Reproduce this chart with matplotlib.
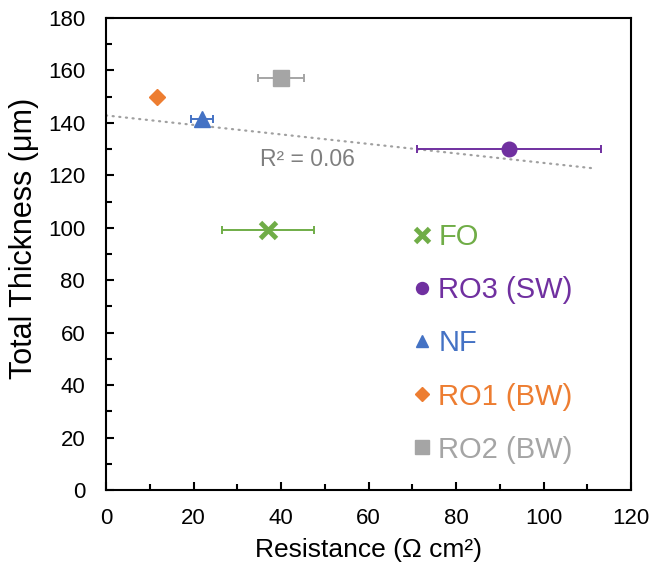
import numpy as np
import matplotlib
matplotlib.use("Agg")
import matplotlib.pyplot as plt
from matplotlib.ticker import MultipleLocator

plt.rcParams['font.family'] = ['Liberation Sans', 'DejaVu Sans']

labels = ["FO", "RO3 (SW)", "NF", "RO1 (BW)", "RO2 (BW)"]
resistance = [37.0, 92.0, 22.0, 11.7, 40.0]
resistance_err = [10.6, 21.0, 2.5, 0.0, 5.3]
thickness = [99.0, 130.0, 141.5, 150.0, 157.0]
colors = ["#70AD47", "#7030A0", "#4472C4", "#ED7D31", "#A5A5A5"]
markers = ["x", "o", "^", "D", "s"]
msizes = [11.5, 10.5, 11, 8.5, 11.5]
trend_range = [0, 112]

fig = plt.figure(figsize=(6.52, 5.71), dpi=100)
ax = fig.add_axes([0.1626, 0.1419, 0.8054, 0.8266])

# linear trendline
coef = np.polyfit(resistance, thickness, 1)
pred = np.polyval(coef, resistance)
r2 = 1 - np.sum((np.array(thickness) - pred) ** 2) / np.sum((np.array(thickness) - np.mean(thickness)) ** 2)
xt = np.array(trend_range, dtype=float)
ax.plot(xt, np.polyval(coef, xt), linestyle=(0, (0.5, 2.5)), color="#A0A0A0", lw=1.6,
        dash_capstyle="round", zorder=1)
ax.text(46.1, 126, f"R² = {r2:.2f}", color="#7F7F7F", fontsize=16.5, ha="center", va="center")

handles = []
for x, xe, y, c, m, ms, lab in zip(resistance, resistance_err, thickness, colors, markers, msizes, labels):
    if xe > 0:
        ax.errorbar(x, y, xerr=xe, fmt="none", ecolor=c, elinewidth=1.4, capsize=3, capthick=1.4, zorder=2)
    mew = 3.5 if m == "x" else 1
    h, = ax.plot([x], [y], marker=m, color=c, markersize=ms, markeredgewidth=mew,
                 linestyle="none", zorder=3, label=lab)
    handles.append(h)

leg = ax.legend(handles=handles, loc="upper left", bbox_to_anchor=(0.58, 0.565), frameon=False,
                fontsize=21, handletextpad=0.15, labelspacing=0.86, markerscale=0.82,
                handlelength=0.8, borderpad=0, borderaxespad=0)
for t, c in zip(leg.get_texts(), colors):
    t.set_color(c)

ax.set_xlim(0, 120)
ax.set_ylim(0, 180)
ax.xaxis.set_major_locator(MultipleLocator(20))
ax.xaxis.set_minor_locator(MultipleLocator(10))
ax.yaxis.set_major_locator(MultipleLocator(20))
ax.yaxis.set_minor_locator(MultipleLocator(10))
ax.tick_params(which="major", direction="in", length=6, width=1.5, labelsize=16,
               top=False, right=False)
ax.tick_params(axis="x", which="major", pad=13)
ax.tick_params(axis="y", which="major", pad=15)
ax.tick_params(which="minor", direction="in", length=4, width=1.5, top=False, right=False)
for s in ax.spines.values():
    s.set_linewidth(1.5)
ax.set_xlabel("Resistance (Ω cm²)", fontsize=19)
ax.set_ylabel("Total Thickness (μm)", fontsize=22)
ax.xaxis.set_label_coords(0.5, -0.102)
ax.yaxis.set_label_coords(-0.128, 0.533)

fig.savefig("out.png", dpi=100)
